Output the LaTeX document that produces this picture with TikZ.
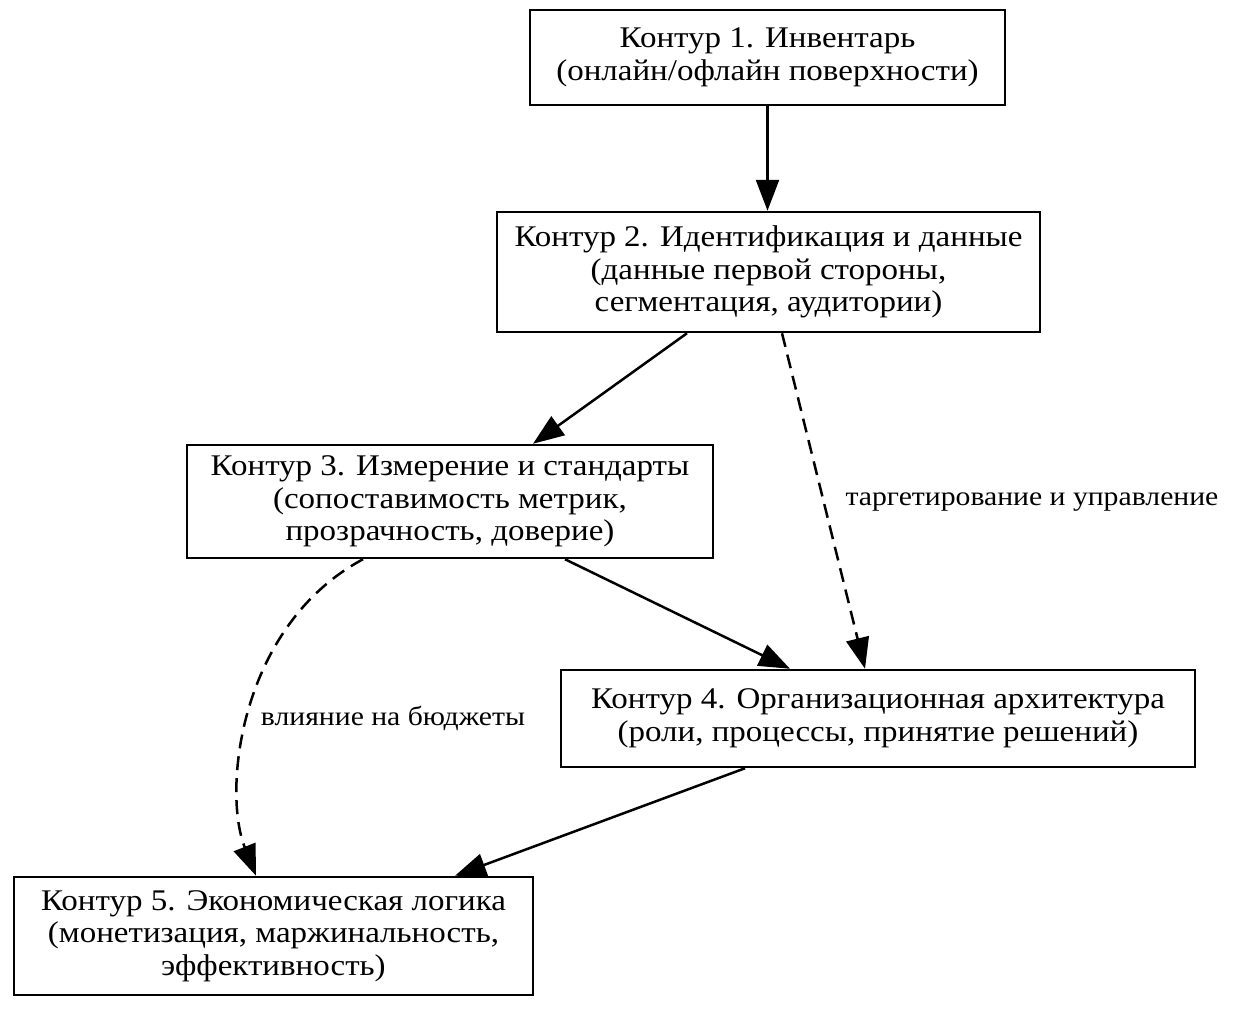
\documentclass[tikz,border=0pt]{standalone}
\usepackage{fontspec}
\setmainfont{Liberation Serif}[FakeStretch=1.1]
\usetikzlibrary{arrows.meta}

\begin{document}
\begin{tikzpicture}[>={Triangle[length=15.5pt,width=11.5pt]}, line cap=butt, x=0.5pt, y=-0.5pt,
  contour/.style={draw, line width=1.25pt, align=center, inner sep=0pt,
    font=\fontsize{15}{16.3}\selectfont},
  link/.style={->, line width=1.25pt},
  weak/.style={link, dash pattern=on 7pt off 4pt},
  linklabel/.style={font=\fontsize{13.5}{15}\selectfont, inner sep=0pt}]

% --- frame ---
\useasboundingbox (0,0) rectangle (1237,1011);

% --- contours, top to bottom ---
\node[contour, minimum width=237.5pt, minimum height=47.5pt] (inv) at (767.5,57.5)
  {Контур 1. Инвентарь\\(онлайн/офлайн поверхности)};
\node[contour, minimum width=271.5pt, minimum height=60pt] (ident) at (768.5,272)
  {Контур 2. Идентификация и данные\\(данные первой стороны,\\сегментация, аудитории)};
\node[contour, minimum width=263pt, minimum height=56.5pt] (meas) at (450,501.5)
  {Контур 3. Измерение и стандарты\\(сопоставимость метрик,\\прозрачность, доверие)};
\node[contour, minimum width=317pt, minimum height=48.5pt] (org) at (878,718.5)
  {Контур 4. Организационная архитектура\\(роли, процессы, принятие решений)};
\node[contour, minimum width=259.5pt, minimum height=59pt] (econ) at (273.5,936)
  {Контур 5. Экономическая логика\\(монетизация, маржинальность,\\эффективность)};

% --- solid links ---
\draw[link] (inv.south) -- (inv.south |- ident.north);
\draw[link] ([xshift=-40.75pt]ident.south) -- ([xshift=41.5pt]meas.north);
\draw[link] ([xshift=57.5pt]meas.south) -- ([xshift=-44pt]org.north);
\draw[link] ([xshift=-66.5pt]org.south) -- ([xshift=90.75pt]econ.north);

% --- dashed links with labels ---
\draw[weak] ([xshift=6.75pt]ident.south) -- ([xshift=-6.5pt]org.north);
\node[linklabel] (tgt) at (1032,502) {таргетирование и управление};
\draw[weak] ([xshift=-43.5pt]meas.south) .. controls (240,625) and (222,790) .. ([xshift=-8.75pt]econ.north);
\node[linklabel] (bud) at (393,718) {влияние на бюджеты};

\end{tikzpicture}
\end{document}
